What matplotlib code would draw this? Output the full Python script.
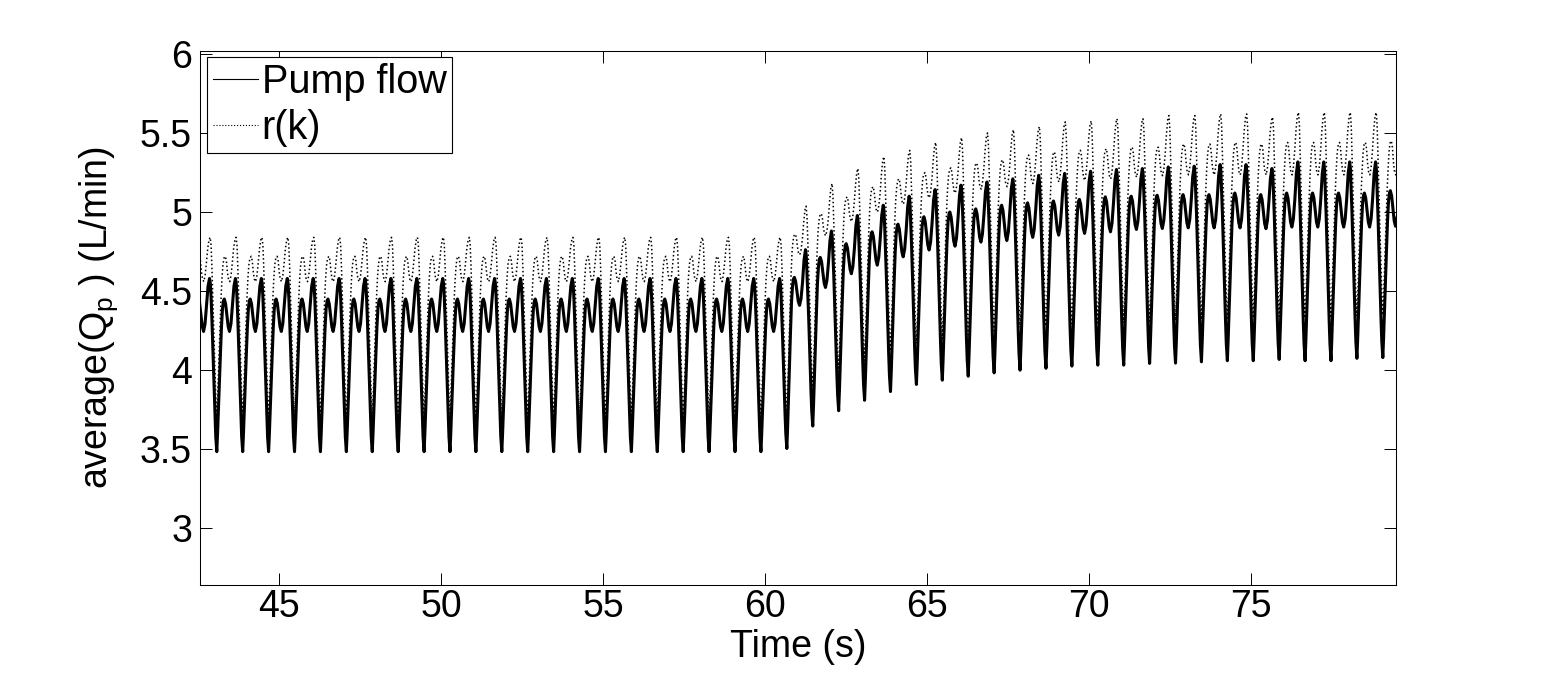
import numpy as np
import matplotlib
matplotlib.use("Agg")
import matplotlib.pyplot as plt
from matplotlib.lines import Line2D

plt.rcParams['font.family'] = ['Liberation Sans', 'DejaVu Sans']
plt.rcParams['mathtext.fontset'] = 'custom'
plt.rcParams['mathtext.rm'] = 'Liberation Sans'
plt.rcParams['mathtext.it'] = 'Liberation Sans:italic'

# ---------------- data ----------------
first_min_time = 43.07   # time of beat minimum k = 0 (s)
beat_period = 0.80       # s
beat_ids = list(range(-1, 46))          # beats drawn (b = -1 .. 45)

# Pump flow: one-beat shape (early, steady beats), phase from minimum to next minimum
solid_phase = [0.0, 0.03, 0.06, 0.10, 0.14, 0.18, 0.22, 0.26, 0.29,
               0.34, 0.39, 0.44, 0.49,
               0.5475, 0.605, 0.6625, 0.72,
               0.75, 0.78, 0.81, 0.84, 0.87, 0.90, 0.93, 0.96]
solid_shape = [3.485, 3.60, 3.74, 3.92, 4.10, 4.27, 4.39, 4.44, 4.45,
               4.42, 4.3475, 4.275, 4.245,
               4.294, 4.4125, 4.531, 4.58,
               4.55, 4.46, 4.33, 4.18, 4.02, 3.86, 3.71, 3.58]
solid_ref = [3.485, 4.245, 4.45, 4.58]   # min, dip, first peak, main peak of that shape

# Pump flow per-beat levels
pump_min = [3.485] * 23 + [3.505, 3.647, 3.744, 3.81, 3.865, 3.91, 3.937, 3.962, 3.983,
                           4.0, 4.012, 4.026, 4.032, 4.032, 4.043, 4.045, 4.053, 4.06,
                           4.06, 4.068, 4.06, 4.06, 4.075, 4.08, 4.08]
pump_peak1 = [4.45] * 23 + [4.587, 4.713, 4.80, 4.875, 4.923, 4.97, 5.00, 5.02, 5.043,
                            5.058, 5.07, 5.08, 5.096, 5.10, 5.106, 5.11, 5.11, 5.12,
                            5.11, 5.12, 5.12, 5.12, 5.12, 5.135]
pump_dip = [4.245] * 23 + [4.41, 4.523, 4.61, 4.664, 4.717, 4.76, 4.784, 4.81, 4.82,
                           4.84, 4.854, 4.865, 4.875, 4.89, 4.896, 4.90, 4.90, 4.90,
                           4.895, 4.905, 4.905, 4.905, 4.905, 4.91]
pump_peak2 = [4.58] * 23 + [4.762, 4.88, 4.978, 5.043, 5.10, 5.142, 5.17, 5.19, 5.21,
                            5.232, 5.244, 5.258, 5.269, 5.275, 5.285, 5.29, 5.30, 5.30,
                            5.275, 5.317, 5.317, 5.317, 5.317, 5.32]

# r(k): one-beat shape and per-beat levels
ref_phase = [0.0, 0.04, 0.08, 0.12, 0.16, 0.20, 0.24, 0.28, 0.33,
             0.37, 0.41, 0.45, 0.50,
             0.55, 0.60, 0.65, 0.70, 0.745,
             0.78, 0.81, 0.84, 0.87, 0.90, 0.93, 0.96]
ref_shape = [3.705, 3.86, 4.05, 4.25, 4.44, 4.58, 4.67, 4.71, 4.72,
             4.69, 4.62, 4.575, 4.56,
             4.60, 4.68, 4.77, 4.825, 4.84,
             4.79, 4.66, 4.50, 4.33, 4.16, 4.00, 3.84]
ref_ref = [3.705, 4.56, 4.72, 4.84]

r_min = [3.705] * 23 + [3.725, 3.88, 3.99, 4.06, 4.12, 4.17, 4.20, 4.225, 4.25,
                        4.27, 4.28, 4.295, 4.30, 4.30, 4.31, 4.315, 4.32, 4.33,
                        4.33, 4.34, 4.33, 4.33, 4.345, 4.35, 4.35]
r_peak1 = [4.72] * 23 + [4.86, 4.99, 5.096, 5.16, 5.21, 5.25, 5.28, 5.31, 5.33,
                         5.36, 5.38, 5.39, 5.40, 5.41, 5.41, 5.43, 5.43, 5.44,
                         5.43, 5.44, 5.44, 5.44, 5.44, 5.45]
r_dip = [4.56] * 23 + [4.73, 4.85, 4.94, 5.0, 5.05, 5.09, 5.12, 5.145, 5.16,
                       5.18, 5.19, 5.20, 5.21, 5.22, 5.23, 5.235, 5.235, 5.235,
                       5.235, 5.235, 5.235, 5.235, 5.235, 5.235]
r_peak2 = [4.84] * 23 + [5.037, 5.18, 5.275, 5.35, 5.39, 5.44, 5.47, 5.50, 5.52,
                         5.54, 5.57, 5.576, 5.59, 5.59, 5.61, 5.61, 5.62, 5.62,
                         5.60, 5.63, 5.63, 5.63, 5.63, 5.63]

xticks = [45, 50, 55, 60, 65, 70, 75]
yticks = [3, 3.5, 4, 4.5, 5, 5.5, 6]
ytick_labels = ['3', '3.5', '4', '4.5', '5', '5.5', '6']


def build(phase, shape, ref, mins, p1, dip, p2):
    ts, vs = [], []
    for i, b in enumerate(beat_ids):
        for ph, v in zip(phase, shape):
            lo = mins[i] if ph < 0.5 else mins[i + 1]
            ts.append(first_min_time + (b + ph) * beat_period)
            vs.append(np.interp(v, ref, [lo, dip[i], p1[i], p2[i]]))
    return np.array(ts), np.array(vs)


t_pump, q_pump = build(solid_phase, solid_shape, solid_ref,
                       pump_min, pump_peak1, pump_dip, pump_peak2)
t_ref, q_ref = build(ref_phase, ref_shape, ref_ref,
                     r_min, r_peak1, r_dip, r_peak2)

# ---------------- figure ----------------
fig = plt.figure(figsize=(15.42, 6.73), dpi=100)
ax = fig.add_axes([200.3 / 1542, 1 - 585 / 673, 1196 / 1542, 534.3 / 673])

ax.plot(t_pump, q_pump, color='black', lw=2.2, solid_joinstyle='round')
ax.plot(t_ref, q_ref, color='black', lw=1.1, ls=':')

ax.set_xlim(42.561, 79.486)
ax.set_ylim(2.642, 6.02)
ax.set_xticks(xticks)
ax.set_yticks(yticks)
ax.set_yticklabels(ytick_labels)
ax.tick_params(direction='in', length=8.6, width=0.7, top=True, right=True,
               labelsize=27, colors='black')
ax.tick_params(axis='x', pad=3)
ax.tick_params(axis='y', pad=6)
for s in ax.spines.values():
    s.set_linewidth(0.75)

ax.set_xlabel('Time (s)', fontsize=27)
ax.xaxis.set_label_coords(0.5, -0.082)
ax.set_ylabel('average(Q$_\\mathregular{p}$ ) (L/min)', fontsize=27)
ax.yaxis.set_label_coords(-0.067, 0.5)

handles = [Line2D([], [], color='black', lw=0.8, ls='-'),
           Line2D([], [], color='black', lw=0.8, ls=':')]
leg = ax.legend(handles, ['Pump flow', 'r(k)'], loc='upper left',
                bbox_to_anchor=(0.00585, 0.9877), borderaxespad=0,
                fontsize=28.5, frameon=True, fancybox=False, framealpha=1,
                edgecolor='black', handlelength=1.12, handletextpad=0.1,
                borderpad=0.15, labelspacing=0.2)
leg.get_frame().set_linewidth(0.8)

fig.savefig('out.png', dpi=100, facecolor='white')
